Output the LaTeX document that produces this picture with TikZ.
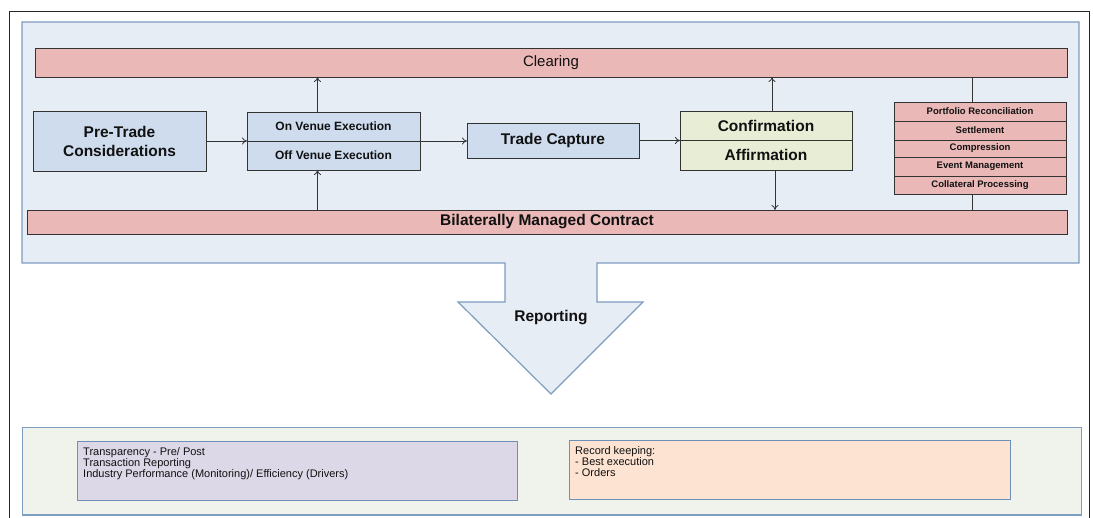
\documentclass[tikz,border=0pt]{standalone}
\usepackage{fontspec}
\setmainfont{Liberation Sans}
\usetikzlibrary{arrows.meta,calc}
\definecolor{panelblue}{HTML}{E7EDF5}
\definecolor{panelline}{HTML}{7E9CC0}
\definecolor{barpink}{HTML}{EAB8B6}
\definecolor{boxblue}{HTML}{CEDCEE}
\definecolor{boxgreen}{HTML}{E8EED6}
\definecolor{botfill}{HTML}{F0F3EB}
\definecolor{purplefill}{HTML}{DDD8E8}
\definecolor{orangefill}{HTML}{FDE3D1}
\definecolor{boxline}{HTML}{6F8FB8}
\definecolor{ink}{HTML}{111111}
\begin{document}
\begin{tikzpicture}[x=1pt,y=-1pt,
  rbox/.style={draw=black!80, line width=0.8pt, inner sep=0pt, outer sep=0pt,
    anchor=north west, text=ink},
  pinkbar/.style={rbox, fill=barpink},
  bluebox/.style={rbox, fill=boxblue},
  greenbox/.style={rbox, fill=boxgreen},
  stackbox/.style={rbox, fill=barpink, minimum width=172pt,
    font=\fontsize{9.5}{11}\selectfont\bfseries},
  bigbold/.style={font=\fontsize{15.5}{19}\selectfont\bfseries},
  midbold/.style={font=\fontsize{12}{14}\selectfont\bfseries},
  notebox/.style={draw=boxline, line width=1pt, inner sep=0pt, outer sep=0pt,
    anchor=north west},
  notetext/.style={anchor=north west, inner sep=0pt, align=left, text=ink,
    font=\fontsize{11}{11}\selectfont},
  arr/.style={draw=black!80, line width=0.8pt, -{To[length=5pt,width=7pt]}},
  plain/.style={draw=black!80, line width=0.8pt}]
\useasboundingbox (0,0) rectangle (1093,518);
\clip (0,0) rectangle (1093,518);
\fill[white] (0,0) rectangle (1093,518);
% outer frame
\draw[black!85, line width=0.9pt] (9,11) rectangle (1089,540);
% main panel with reporting arrow
\draw[fill=panelblue, draw=panelline, line width=1.2pt]
  (22,22) -- (1079,22) -- (1079,263) -- (597,263) -- (597,302) -- (643,302)
  -- (551,394) -- (458,302) -- (505,302) -- (505,263) -- (22,263) -- cycle;
\node[text=ink, font=\fontsize{15.5}{19}\selectfont\bfseries] (rep) at (551,318) {Reporting};
% bars
\node[pinkbar, minimum width=1032pt, minimum height=29pt,
  font=\fontsize{15}{18}\selectfont] (clearing) at (35,48) {Clearing};
\node[pinkbar, bigbold, minimum width=1040pt, minimum height=24pt] (bilat) at (27,210)
  {Bilaterally Managed Contract};
% process boxes
\node[bluebox, bigbold, align=center, minimum width=173pt, minimum height=60pt] (pre)
  at (33,111) {Pre-Trade\\Considerations};
\node[bluebox, midbold, minimum width=173pt, minimum height=29pt] (onv) at (247,112)
  {On Venue Execution};
\node[bluebox, midbold, minimum width=173pt, minimum height=29pt] (offv) at (247,141)
  {Off Venue Execution};
\node[bluebox, bigbold, minimum width=172pt, minimum height=35pt] (tc) at (467,123)
  {Trade Capture};
\node[greenbox, bigbold, minimum width=172pt, minimum height=29pt] (conf) at (680,111)
  {Confirmation};
\node[greenbox, bigbold, minimum width=172pt, minimum height=30pt] (aff) at (680,140)
  {Affirmation};
% stack
\node[stackbox, minimum height=19pt] (s1) at (894,102) {Portfolio Reconciliation};
\node[stackbox, minimum height=19pt] (s2) at (894,121) {Settlement};
\node[stackbox, minimum height=17pt] (s3) at (894,140) {Compression};
\node[stackbox, minimum height=19pt] (s4) at (894,157) {Event Management};
\node[stackbox, minimum height=18pt] (s5) at (894,176) {Collateral Processing};
% connectors
\draw[arr] (pre.east |- onv.south west) -- (onv.south west);
\draw[arr] (onv.south east) -- (onv.south east -| tc.west);
\draw[arr] (tc.east) -- (tc.east -| conf.west);
\draw[arr] ([xshift=-16pt]onv.north) -- ([xshift=-16pt]onv.north |- clearing.south);
\draw[arr] ([xshift=-16pt]offv.south |- bilat.north) -- ([xshift=-16pt]offv.south);
\draw[arr] ([xshift=6pt]conf.north) -- ([xshift=6pt]conf.north |- clearing.south);
\draw[arr] ([xshift=9pt]aff.south) -- ([xshift=9pt]aff.south |- bilat.north);
\draw[plain] ([xshift=-8pt]s1.north) -- ([xshift=-8pt]s1.north |- clearing.south);
\draw[plain] ([xshift=-8pt]s5.south) -- ([xshift=-8pt]s5.south |- bilat.north);
% bottom panel
\node[notebox, fill=botfill, draw=panelline, minimum width=1059pt, minimum height=87pt]
  (bottom) at (22,428) {};
\node[notebox, fill=purplefill, minimum width=440pt, minimum height=59pt] (purple)
  at (77,442) {};
\node[notebox, fill=orangefill, minimum width=441pt, minimum height=59pt] (orange)
  at (569,441) {};
\node[notetext] (ptext) at ([xshift=6pt,yshift=-5pt]purple.north west)
  {Transparency - Pre/ Post\\Transaction Reporting\\Industry Performance (Monitoring)/ Efficiency (Drivers)};
\node[notetext] (otext) at ([xshift=6pt,yshift=-5pt]orange.north west)
  {Record keeping:\\- Best execution\\- Orders};
\end{tikzpicture}
\end{document}
